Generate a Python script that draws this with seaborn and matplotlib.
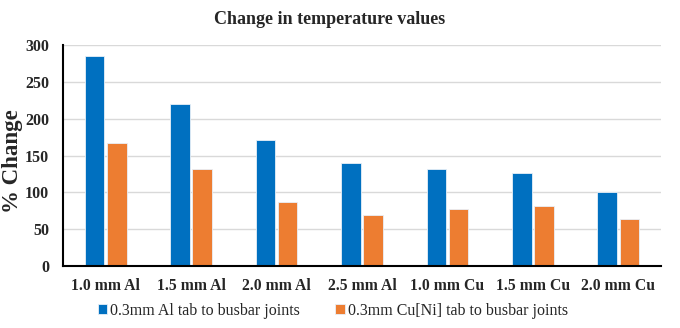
import matplotlib
matplotlib.use("Agg")
import matplotlib.pyplot as plt
import seaborn as sns
import pandas as pd

categories = ["1.0 mm Al", "1.5 mm Al", "2.0 mm Al", "2.5 mm Al", "1.0 mm Cu", "1.5 mm Cu", "2.0 mm Cu"]
series_names = ["0.3mm Al tab to busbar joints", "0.3mm Cu[Ni] tab to busbar joints"]
al_tab = [285, 220, 171, 140, 132, 126, 101]
cu_tab = [167, 132, 87, 69, 78, 81, 64]
colors = ["#0070C0", "#ED7D31"]

df = pd.DataFrame({
    "cat": categories * 2,
    "val": al_tab + cu_tab,
    "series": [series_names[0]] * len(categories) + [series_names[1]] * len(categories),
})

sns.set_style("white")
plt.rcParams["font.family"] = ["Liberation Serif", "DejaVu Serif"]

fig = plt.figure(figsize=(6.8, 3.28), dpi=100)
ax = fig.add_axes([63 / 680, 1 - 266 / 328, (661 - 63) / 680, (266 - 45) / 328])

sns.barplot(data=df, x="cat", y="val", hue="series", order=categories,
            hue_order=series_names, palette=colors, saturation=1, width=0.52, gap=0.12,
            edgecolor="#e8f0f8", linewidth=0.6, ax=ax, legend=True)

ax.set_ylim(0, 300)
ax.set_xlim(-0.5, len(categories) - 0.5)
ax.set_yticks(range(0, 301, 50))
ax.yaxis.grid(True, color="#d9d9d9", linewidth=1.0)
ax.set_axisbelow(True)
for s in ["top", "right"]:
    ax.spines[s].set_visible(False)
for s in ["left", "bottom"]:
    ax.spines[s].set_color("black")
    ax.spines[s].set_linewidth(1.5)
ax.tick_params(axis="x", which="both", direction="out", length=3, width=1.2, color="black",
               labelsize=11.3, pad=6)
ax.tick_params(axis="y", which="both", direction="out", length=3, width=1.2, color="black",
               labelsize=11.5, pad=7)
for lab in ax.get_xticklabels() + ax.get_yticklabels():
    lab.set_fontweight("bold")
ax.set_xlabel("")
ax.set_ylabel("% Change", fontsize=16.5, fontweight="bold")
ax.yaxis.set_label_coords(-(63 - 23) / 598, (266 - 161) / 221)

fig.text(330 / 680, 1 - 20 / 328, "Change in temperature values", ha="center", va="center",
         fontsize=13, fontweight="bold")

handles, labels = ax.get_legend_handles_labels()
ax.legend_.remove()
fig.legend(handles, labels, loc="center", bbox_to_anchor=(333 / 680, 1 - 311 / 328), ncol=2,
           frameon=False, fontsize=11.5, handlelength=0.6, handleheight=0.6,
           handletextpad=0.2, columnspacing=2.2)

fig.savefig("out.png", dpi=100)
